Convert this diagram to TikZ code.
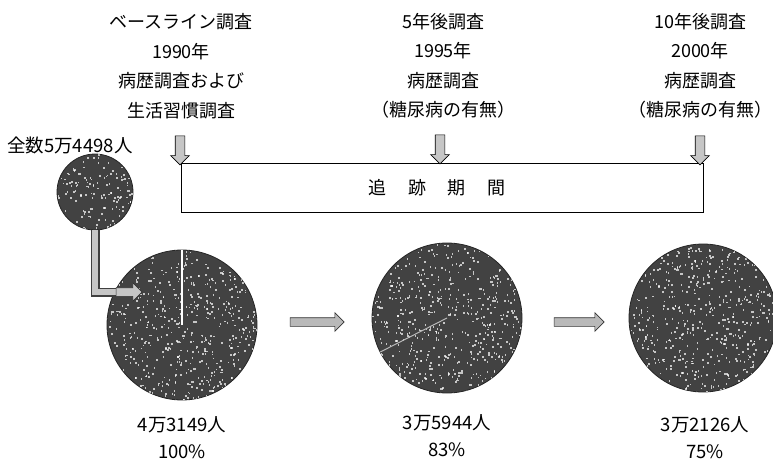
\documentclass[tikz,border=0pt]{standalone}
\usepackage{fontspec}
\setmainfont{Noto Sans CJK JP}
\usetikzlibrary{shapes.arrows,calc}
\newcommand{\speckles}[4]{% cx cy R n
  \begin{scope}
    \clip (#1,#2) circle (#3);
    \foreach \k in {1,...,#4}{%
      \pgfmathsetmacro\rr{#3*sqrt(rnd)}%
      \pgfmathsetmacro\aa{360*rnd}%
      \pgfmathsetmacro\ww{0.8+1.4*rnd}%
      \fill[white,opacity=0.7] ($(#1,#2)+(\aa:\rr)$) rectangle ++(\ww,1.8);
    }
  \end{scope}}
\begin{document}
\begin{tikzpicture}[x=1pt,y=-1pt,
  head/.style={font=\fontsize{18pt}{29.5pt}\selectfont, align=center, inner sep=0pt},
  lbl/.style={font=\fontsize{18.5pt}{27pt}\selectfont, align=center, inner sep=0pt},
  disc/.style={circle, fill=black!74, draw=black!85, line width=0.8pt, inner sep=0pt},
  downarrow/.style={single arrow, shape border rotate=270, fill=gray!45, draw=black, line width=0.6pt,
    minimum height=29pt, inner sep=4.5pt, single arrow head extend=4.5pt},
  sidearrow/.style={single arrow, fill=gray!55, draw=black!80, line width=0.6pt,
    inner sep=4pt, single arrow head extend=5pt},
  period/.style={draw=black, line width=0.7pt, minimum width=522pt, minimum height=49pt, inner sep=0pt}]
\useasboundingbox (0,0) rectangle (773,460);
\pgfmathsetseed{4242}

% headers
\node[head] (t1) at (181,66) {ベースライン調査\\1990年\\病歴調査および\\生活習慣調査};
\node[head] (t2) at (443,66) {5年後調査\\1995年\\病歴調査\\（糖尿病の有無）};
\node[head] (t3) at (700,66) {10年後調査\\2000年\\病歴調査\\（糖尿病の有無）};

\node[lbl, anchor=west] (total) at (7,145) {全数5万4498人};

% follow-up period box
\node[period] (box) at (442,187.5) {};
\node[font=\fontsize{18pt}{20pt}\selectfont] (boxt) at (437,188) {追\hspace{22pt}跡\hspace{22pt}期\hspace{22pt}間};

% discs
\node[disc, minimum size=76pt] (c0) at (95,192) {};
\speckles{95}{192}{38}{130}
\node[disc, minimum size=150pt] (c1) at (182,325) {};
\speckles{182}{325}{75}{480}
\node[disc, minimum size=150pt] (c2) at (447,318) {};
\speckles{447}{318}{75}{480}
\node[disc, minimum size=148pt] (c3) at (703,318) {};
\speckles{703}{318}{74}{480}

\draw[white, line width=1.6pt] (c1.center) -- (c1.north);
\draw[gray!55, line width=1pt] (c2.center) -- ++(153:75);

% down arrows
\node[downarrow] (d1) at (180,148) {};
\node[downarrow] (d2) at (440,147) {};
\node[downarrow] (d3) at (700,148) {};

% connector from total to first disc
\coordinate (bend) at (95,292);
\draw[black!75, line width=9pt] (c0.south) -- (bend) -- (118,292);
\draw[gray!45, line width=5.5pt] (c0.south) -- (bend) -- (118,292);
\node[sidearrow, minimum height=26pt, fill=gray!45] (a0) at (127,292) {};

% arrows between discs
\node[sidearrow, minimum height=54pt] (h1) at (315,322) {};
\node[sidearrow, minimum height=50pt] (h2) at (577,322) {};

% counts
\node[lbl] (n1) at (182,438) {4万3149人\\100\%};
\node[lbl] (n2) at (447,436) {3万5944人\\83\%};
\node[lbl] (n3) at (705,438) {3万2126人\\75\%};
\end{tikzpicture}
\end{document}
